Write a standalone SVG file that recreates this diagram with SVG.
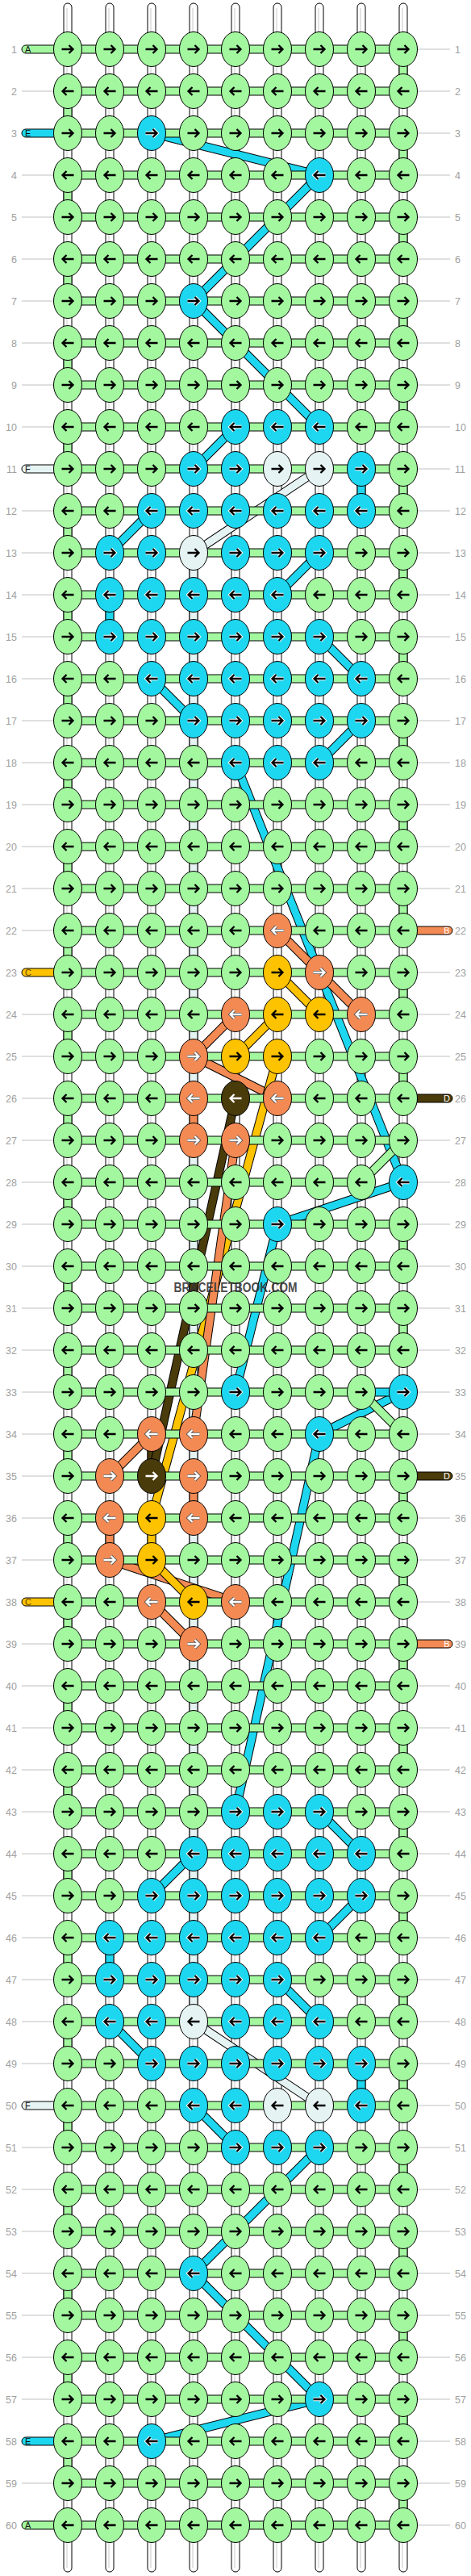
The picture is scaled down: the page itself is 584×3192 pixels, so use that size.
<svg xmlns="http://www.w3.org/2000/svg" xmlns:xlink="http://www.w3.org/1999/xlink" width="584" height="3192" viewBox="0 0 584 3192">
<style>
text{font-family:"Liberation Sans",Arial,sans-serif}
.rl{font-size:12.5px;fill:#a0a0a0}
.gl{stroke:#c0c0c0;stroke-width:1;fill:none}
.vs{fill:#fff;stroke:#000;stroke-width:1}
.vc{stroke:#c8c8c8;stroke-width:1}
.s{stroke:#000;stroke-width:1}
.g{fill:#a3f79f}.c{fill:#1dd7f0}.f{fill:#e6f3f3}.o{fill:#f38a54}.y{fill:#fdc300}.b{fill:#4a3b0b}
.lo{stroke:#000;stroke-width:11}
.lg{stroke:#a3f79f;stroke-width:9}.lc{stroke:#1dd7f0;stroke-width:9}.lf{stroke:#e6f3f3;stroke-width:9}
.lor{stroke:#f38a54;stroke-width:9}.ly{stroke:#fdc300;stroke-width:9}.lb{stroke:#4a3b0b;stroke-width:9}
.ab{fill:none;stroke:#000;stroke-width:2.3}
.aw{fill:none;stroke:#fff;stroke-width:2.3}
.ah{fill:none;stroke:#fff;stroke-width:4.3}
.ad{fill:none;stroke:#555;stroke-width:4}
.sl{font-size:11px}
</style>
<defs>
<path id="aR" d="M-7.5 0H6M1.5-5L6.5 0L1.5 5"/>
<path id="aL" d="M7.5 0H-6M-1.5-5L-6.5 0L-1.5 5"/>
<g id="GR"><ellipse class="s g" rx="17.5" ry="21.5"/><use href="#aR" class="ab"/></g>
<g id="GL"><ellipse class="s g" rx="17.5" ry="21.5"/><use href="#aL" class="ab"/></g>
<g id="CR"><ellipse class="s c" rx="17.5" ry="21.5"/><use href="#aR" class="ah"/><use href="#aR" class="ab"/></g>
<g id="CL"><ellipse class="s c" rx="17.5" ry="21.5"/><use href="#aL" class="ah"/><use href="#aL" class="ab"/></g>
<g id="FR"><ellipse class="s f" rx="17.5" ry="21.5"/><use href="#aR" class="ab"/></g>
<g id="FL"><ellipse class="s f" rx="17.5" ry="21.5"/><use href="#aL" class="ab"/></g>
<g id="OR"><ellipse class="s o" rx="17.5" ry="21.5"/><use href="#aR" class="ad"/><use href="#aR" class="aw"/></g>
<g id="OL"><ellipse class="s o" rx="17.5" ry="21.5"/><use href="#aL" class="ad"/><use href="#aL" class="aw"/></g>
<g id="YR"><ellipse class="s y" rx="17.5" ry="21.5"/><use href="#aR" class="ab"/></g>
<g id="YL"><ellipse class="s y" rx="17.5" ry="21.5"/><use href="#aL" class="ab"/></g>
<g id="BR"><ellipse class="s b" rx="17.5" ry="21.5"/><use href="#aR" class="aw"/></g>
<g id="BL"><ellipse class="s b" rx="17.5" ry="21.5"/><use href="#aL" class="aw"/></g>
</defs>
<rect width="584" height="3192" fill="#fff"/>

<g id="row-guides">
<path class="gl" d="M27 113H67M27 217H67M27 269H67M27 321H67M27 373H67M27 425H67M27 477H67M27 529H67M27 633H67M27 685H67M27 737H67M27 789H67M27 841H67M27 893H67M27 945H67M27 997H67M27 1049H67M27 1101H67M27 1153H67M27 1257H67M27 1309H67M27 1361H67M27 1413H67M27 1465H67M27 1517H67M27 1569H67M27 1621H67M27 1673H67M27 1725H67M27 1777H67M27 1829H67M27 1881H67M27 1933H67M27 2037H67M27 2089H67M27 2141H67M27 2193H67M27 2245H67M27 2297H67M27 2349H67M27 2401H67M27 2453H67M27 2505H67M27 2557H67M27 2661H67M27 2713H67M27 2765H67M27 2817H67M27 2869H67M27 2921H67M27 2973H67M27 3077H67"/>
<path class="gl" d="M517 61H558M517 113H558M517 165H558M517 217H558M517 269H558M517 321H558M517 373H558M517 425H558M517 477H558M517 529H558M517 581H558M517 633H558M517 685H558M517 737H558M517 789H558M517 841H558M517 893H558M517 945H558M517 997H558M517 1049H558M517 1101H558M517 1205H558M517 1257H558M517 1309H558M517 1413H558M517 1465H558M517 1517H558M517 1569H558M517 1621H558M517 1673H558M517 1725H558M517 1777H558M517 1881H558M517 1933H558M517 1985H558M517 2089H558M517 2141H558M517 2193H558M517 2245H558M517 2297H558M517 2349H558M517 2401H558M517 2453H558M517 2505H558M517 2557H558M517 2609H558M517 2661H558M517 2713H558M517 2765H558M517 2817H558M517 2869H558M517 2921H558M517 2973H558M517 3025H558M517 3077H558M517 3129H558"/>
<g class="rl" text-anchor="end">
<text x="21" y="65.5">1</text><text x="21" y="117.5">2</text><text x="21" y="169.5">3</text><text x="21" y="221.5">4</text><text x="21" y="273.5">5</text><text x="21" y="325.5">6</text><text x="21" y="377.5">7</text><text x="21" y="429.5">8</text><text x="21" y="481.5">9</text><text x="21" y="533.5">10</text>
<text x="21" y="585.5">11</text><text x="21" y="637.5">12</text><text x="21" y="689.5">13</text><text x="21" y="741.5">14</text><text x="21" y="793.5">15</text><text x="21" y="845.5">16</text><text x="21" y="897.5">17</text><text x="21" y="949.5">18</text><text x="21" y="1001.5">19</text><text x="21" y="1053.5">20</text>
<text x="21" y="1105.5">21</text><text x="21" y="1157.5">22</text><text x="21" y="1209.5">23</text><text x="21" y="1261.5">24</text><text x="21" y="1313.5">25</text><text x="21" y="1365.5">26</text><text x="21" y="1417.5">27</text><text x="21" y="1469.5">28</text><text x="21" y="1521.5">29</text><text x="21" y="1573.5">30</text>
<text x="21" y="1625.5">31</text><text x="21" y="1677.5">32</text><text x="21" y="1729.5">33</text><text x="21" y="1781.5">34</text><text x="21" y="1833.5">35</text><text x="21" y="1885.5">36</text><text x="21" y="1937.5">37</text><text x="21" y="1989.5">38</text><text x="21" y="2041.5">39</text><text x="21" y="2093.5">40</text>
<text x="21" y="2145.5">41</text><text x="21" y="2197.5">42</text><text x="21" y="2249.5">43</text><text x="21" y="2301.5">44</text><text x="21" y="2353.5">45</text><text x="21" y="2405.5">46</text><text x="21" y="2457.5">47</text><text x="21" y="2509.5">48</text><text x="21" y="2561.5">49</text><text x="21" y="2613.5">50</text>
<text x="21" y="2665.5">51</text><text x="21" y="2717.5">52</text><text x="21" y="2769.5">53</text><text x="21" y="2821.5">54</text><text x="21" y="2873.5">55</text><text x="21" y="2925.5">56</text><text x="21" y="2977.5">57</text><text x="21" y="3029.5">58</text><text x="21" y="3081.5">59</text><text x="21" y="3133.5">60</text>
</g>
<g class="rl">
<text x="564" y="65.5">1</text><text x="564" y="117.5">2</text><text x="564" y="169.5">3</text><text x="564" y="221.5">4</text><text x="564" y="273.5">5</text><text x="564" y="325.5">6</text><text x="564" y="377.5">7</text><text x="564" y="429.5">8</text><text x="564" y="481.5">9</text><text x="564" y="533.5">10</text>
<text x="564" y="585.5">11</text><text x="564" y="637.5">12</text><text x="564" y="689.5">13</text><text x="564" y="741.5">14</text><text x="564" y="793.5">15</text><text x="564" y="845.5">16</text><text x="564" y="897.5">17</text><text x="564" y="949.5">18</text><text x="564" y="1001.5">19</text><text x="564" y="1053.5">20</text>
<text x="564" y="1105.5">21</text><text x="564" y="1157.5">22</text><text x="564" y="1209.5">23</text><text x="564" y="1261.5">24</text><text x="564" y="1313.5">25</text><text x="564" y="1365.5">26</text><text x="564" y="1417.5">27</text><text x="564" y="1469.5">28</text><text x="564" y="1521.5">29</text><text x="564" y="1573.5">30</text>
<text x="564" y="1625.5">31</text><text x="564" y="1677.5">32</text><text x="564" y="1729.5">33</text><text x="564" y="1781.5">34</text><text x="564" y="1833.5">35</text><text x="564" y="1885.5">36</text><text x="564" y="1937.5">37</text><text x="564" y="1989.5">38</text><text x="564" y="2041.5">39</text><text x="564" y="2093.5">40</text>
<text x="564" y="2145.5">41</text><text x="564" y="2197.5">42</text><text x="564" y="2249.5">43</text><text x="564" y="2301.5">44</text><text x="564" y="2353.5">45</text><text x="564" y="2405.5">46</text><text x="564" y="2457.5">47</text><text x="564" y="2509.5">48</text><text x="564" y="2561.5">49</text><text x="564" y="2613.5">50</text>
<text x="564" y="2665.5">51</text><text x="564" y="2717.5">52</text><text x="564" y="2769.5">53</text><text x="564" y="2821.5">54</text><text x="564" y="2873.5">55</text><text x="564" y="2925.5">56</text><text x="564" y="2977.5">57</text><text x="564" y="3029.5">58</text><text x="564" y="3081.5">59</text><text x="564" y="3133.5">60</text>
</g>
</g>

<g id="warp-strands">
<rect class="vs" x="79" y="4" width="10" height="3183" rx="5"/><rect class="vs" x="131" y="4" width="10" height="3183" rx="5"/><rect class="vs" x="183" y="4" width="10" height="3183" rx="5"/><rect class="vs" x="235" y="4" width="10" height="3183" rx="5"/><rect class="vs" x="287" y="4" width="10" height="3183" rx="5"/><rect class="vs" x="339" y="4" width="10" height="3183" rx="5"/><rect class="vs" x="391" y="4" width="10" height="3183" rx="5"/><rect class="vs" x="443" y="4" width="10" height="3183" rx="5"/><rect class="vs" x="495" y="4" width="10" height="3183" rx="5"/>
<path class="vc" d="M83 10V3182M135 10V3182M187 10V3182M239 10V3182M291 10V3182M343 10V3182M395 10V3182M447 10V3182M499 10V3182"/>
<path class="s g" d="M79 128h10v22h-10zM79 232h10v22h-10zM79 336h10v22h-10zM79 440h10v22h-10zM79 544h10v22h-10zM79 648h10v22h-10zM79 752h10v22h-10zM79 856h10v22h-10zM79 960h10v22h-10zM79 1064h10v22h-10zM79 1168h10v22h-10zM79 1272h10v22h-10zM79 1376h10v22h-10zM79 1480h10v22h-10zM79 1584h10v22h-10zM79 1688h10v22h-10zM79 1792h10v22h-10zM79 1896h10v22h-10zM79 2000h10v22h-10zM79 2104h10v22h-10zM79 2208h10v22h-10zM79 2312h10v22h-10zM79 2416h10v22h-10zM79 2520h10v22h-10zM79 2624h10v22h-10zM79 2728h10v22h-10zM79 2832h10v22h-10zM79 2936h10v22h-10zM79 3040h10v22h-10z"/>
<path class="s g" d="M495 76h10v22h-10zM495 180h10v22h-10zM495 284h10v22h-10zM495 388h10v22h-10zM495 492h10v22h-10zM495 596h10v22h-10zM495 700h10v22h-10zM495 804h10v22h-10zM495 908h10v22h-10zM495 1012h10v22h-10zM495 1116h10v22h-10zM495 1220h10v22h-10zM495 1324h10v22h-10zM495 1532h10v22h-10zM495 1636h10v22h-10zM495 1844h10v22h-10zM495 1948h10v22h-10zM495 2052h10v22h-10zM495 2156h10v22h-10zM495 2260h10v22h-10zM495 2364h10v22h-10zM495 2468h10v22h-10zM495 2572h10v22h-10zM495 2676h10v22h-10zM495 2780h10v22h-10zM495 2884h10v22h-10zM495 2988h10v22h-10zM495 3092h10v22h-10z"/>
<path class="s c" d="M443 596h10v22h-10zM443 2572h10v22h-10zM131 752h10v22h-10zM131 2416h10v22h-10z"/>
<path class="s f" d="M235 700h10v646h-10zM235 1428h10v386h-10zM235 1896h10v594h-10z"/>
<path class="s o" d="M235 1376h10v22h-10zM235 1844h10v22h-10zM131 1896h10v22h-10z"/>
<path class="s y" d="M183 1896h10v22h-10z"/>
<path class="s b" d="M183 1792h10v22h-10z"/>
</g>

<g id="connectors">
<g id="e1"><line class="lo" x1="188" y1="165" x2="396" y2="217"/><line class="lc" x1="188" y1="165" x2="396" y2="217"/></g>
<g id="e2"><line class="lo" x1="396" y1="217" x2="240" y2="373"/><line class="lc" x1="396" y1="217" x2="240" y2="373"/></g>
<g id="e3"><line class="lo" x1="240" y1="373" x2="396" y2="529"/><line class="lc" x1="240" y1="373" x2="396" y2="529"/></g>
<g id="e4"><line class="lo" x1="292" y1="529" x2="240" y2="581"/><line class="lc" x1="292" y1="529" x2="240" y2="581"/></g>
<g id="e5"><line class="lo" x1="188" y1="633" x2="136" y2="685"/><line class="lc" x1="188" y1="633" x2="136" y2="685"/></g>
<g id="e6"><line class="lo" x1="396" y1="685" x2="344" y2="737"/><line class="lc" x1="396" y1="685" x2="344" y2="737"/></g>
<g id="e7"><line class="lo" x1="396" y1="789" x2="448" y2="841"/><line class="lc" x1="396" y1="789" x2="448" y2="841"/></g>
<g id="e8"><line class="lo" x1="188" y1="841" x2="240" y2="893"/><line class="lc" x1="188" y1="841" x2="240" y2="893"/></g>
<g id="e9"><line class="lo" x1="448" y1="893" x2="396" y2="945"/><line class="lc" x1="448" y1="893" x2="396" y2="945"/></g>
<g id="e10"><line class="lo" x1="292" y1="945" x2="500" y2="1465"/><line class="lc" x1="292" y1="945" x2="500" y2="1465"/></g>
<g id="e11"><line class="lo" x1="500" y1="1465" x2="344" y2="1517"/><line class="lc" x1="500" y1="1465" x2="344" y2="1517"/></g>
<g id="e12"><line class="lo" x1="344" y1="1517" x2="292" y2="1725"/><line class="lc" x1="344" y1="1517" x2="292" y2="1725"/></g>
<g id="e13"><line class="lo" x1="500" y1="1725" x2="396" y2="1777"/><line class="lc" x1="500" y1="1725" x2="396" y2="1777"/></g>
<g id="e14"><line class="lo" x1="396" y1="1777" x2="292" y2="2245"/><line class="lc" x1="396" y1="1777" x2="292" y2="2245"/></g>
<g id="e15"><line class="lo" x1="396" y1="2245" x2="448" y2="2297"/><line class="lc" x1="396" y1="2245" x2="448" y2="2297"/></g>
<g id="e16"><line class="lo" x1="240" y1="2297" x2="188" y2="2349"/><line class="lc" x1="240" y1="2297" x2="188" y2="2349"/></g>
<g id="e17"><line class="lo" x1="448" y1="2349" x2="396" y2="2401"/><line class="lc" x1="448" y1="2349" x2="396" y2="2401"/></g>
<g id="e18"><line class="lo" x1="344" y1="2453" x2="396" y2="2505"/><line class="lc" x1="344" y1="2453" x2="396" y2="2505"/></g>
<g id="e19"><line class="lo" x1="136" y1="2505" x2="188" y2="2557"/><line class="lc" x1="136" y1="2505" x2="188" y2="2557"/></g>
<g id="e20"><line class="lo" x1="240" y1="2609" x2="292" y2="2661"/><line class="lc" x1="240" y1="2609" x2="292" y2="2661"/></g>
<g id="e21"><line class="lo" x1="396" y1="2661" x2="240" y2="2817"/><line class="lc" x1="396" y1="2661" x2="240" y2="2817"/></g>
<g id="e22"><line class="lo" x1="240" y1="2817" x2="396" y2="2973"/><line class="lc" x1="240" y1="2817" x2="396" y2="2973"/></g>
<g id="e23"><line class="lo" x1="396" y1="2973" x2="188" y2="3025"/><line class="lc" x1="396" y1="2973" x2="188" y2="3025"/></g>
<g id="e24"><line class="lo" x1="396" y1="581" x2="240" y2="685"/><line class="lf" x1="396" y1="581" x2="240" y2="685"/></g>
<g id="e25"><line class="lo" x1="240" y1="2505" x2="396" y2="2609"/><line class="lf" x1="240" y1="2505" x2="396" y2="2609"/></g>
<g id="e26"><line class="lo" x1="500" y1="1413" x2="448" y2="1465"/><line class="lg" x1="500" y1="1413" x2="448" y2="1465"/></g>
<g id="e27"><line class="lo" x1="448" y1="1725" x2="500" y2="1777"/><line class="lg" x1="448" y1="1725" x2="500" y2="1777"/></g>
<g id="e28"><line class="lo" x1="344" y1="1153" x2="396" y2="1205"/><line class="lor" x1="344" y1="1153" x2="396" y2="1205"/></g>
<g id="e29"><line class="lo" x1="396" y1="1205" x2="448" y2="1257"/><line class="lor" x1="396" y1="1205" x2="448" y2="1257"/></g>
<g id="e30"><line class="lo" x1="292" y1="1257" x2="240" y2="1309"/><line class="lor" x1="292" y1="1257" x2="240" y2="1309"/></g>
<g id="e31"><line class="lo" x1="240" y1="1309" x2="344" y2="1361"/><line class="lor" x1="240" y1="1309" x2="344" y2="1361"/></g>
<g id="e36"><line class="lo" x1="344" y1="1205" x2="396" y2="1257"/><line class="ly" x1="344" y1="1205" x2="396" y2="1257"/></g>
<g id="e37"><line class="lo" x1="344" y1="1257" x2="292" y2="1309"/><line class="ly" x1="344" y1="1257" x2="292" y2="1309"/></g>
<g id="e40"><line class="lo" x1="292" y1="1361" x2="188" y2="1829"/><line class="lb" x1="292" y1="1361" x2="188" y2="1829"/></g>
<g id="e38"><line class="lo" x1="344" y1="1309" x2="188" y2="1881"/><line class="ly" x1="344" y1="1309" x2="188" y2="1881"/></g>
<g id="e32"><line class="lo" x1="292" y1="1413" x2="240" y2="1777"/><line class="lor" x1="292" y1="1413" x2="240" y2="1777"/></g>
<g id="e33"><line class="lo" x1="188" y1="1777" x2="136" y2="1829"/><line class="lor" x1="188" y1="1777" x2="136" y2="1829"/></g>
<g id="e34"><line class="lo" x1="136" y1="1933" x2="292" y2="1985"/><line class="lor" x1="136" y1="1933" x2="292" y2="1985"/></g>
<g id="e39"><line class="lo" x1="188" y1="1933" x2="240" y2="1985"/><line class="ly" x1="188" y1="1933" x2="240" y2="1985"/></g>
<g id="e35"><line class="lo" x1="188" y1="1985" x2="240" y2="2037"/><line class="lor" x1="188" y1="1985" x2="240" y2="2037"/></g>
</g>

<g id="weft-bars">
<path class="s g" d="M84 56h416v10h-416zM84 108h416v10h-416zM84 160h416v10h-416zM84 212h416v10h-416zM84 264h416v10h-416zM84 316h416v10h-416zM84 368h416v10h-416zM84 420h416v10h-416zM84 472h416v10h-416zM84 524h416v10h-416zM84 576h416v10h-416zM84 628h416v10h-416zM84 680h416v10h-416zM84 732h416v10h-416zM84 784h416v10h-416zM84 836h416v10h-416zM84 888h416v10h-416zM84 940h416v10h-416zM84 992h416v10h-416zM84 1044h416v10h-416zM84 1096h416v10h-416zM84 1148h416v10h-416zM84 1200h416v10h-416zM84 1252h416v10h-416zM84 1304h416v10h-416zM84 1356h416v10h-416zM84 1408h416v10h-416zM84 1460h364v10h-364zM84 1512h416v10h-416zM84 1564h416v10h-416zM84 1616h416v10h-416zM84 1668h416v10h-416zM84 1720h364v10h-364zM84 1772h416v10h-416zM84 1824h416v10h-416zM84 1876h416v10h-416zM84 1928h416v10h-416zM84 1980h416v10h-416zM84 2032h416v10h-416zM84 2084h416v10h-416zM84 2136h416v10h-416zM84 2188h416v10h-416zM84 2240h416v10h-416zM84 2292h416v10h-416zM84 2344h416v10h-416zM84 2396h416v10h-416zM84 2448h416v10h-416zM84 2500h416v10h-416zM84 2552h416v10h-416zM84 2604h416v10h-416zM84 2656h416v10h-416zM84 2708h416v10h-416zM84 2760h416v10h-416zM84 2812h416v10h-416zM84 2864h416v10h-416zM84 2916h416v10h-416zM84 2968h416v10h-416zM84 3020h416v10h-416zM84 3072h416v10h-416zM84 3124h416v10h-416z"/>
<path class="s c" d="M448 1720h52v10h-52z"/>
</g>

<g id="strand-ends">
<g id="sA1"><rect class="s g" x="27" y="56" width="62" height="10" rx="5"/><text class="sl" x="31" y="65" fill="#111">A</text></g>
<g id="sE1"><rect class="s c" x="27" y="160" width="62" height="10" rx="5"/><text class="sl" x="31" y="169" fill="#111">E</text></g>
<g id="sF1"><rect class="s f" x="27" y="576" width="62" height="10" rx="5"/><text class="sl" x="31" y="585" fill="#111">F</text></g>
<g id="sC1"><rect class="s y" x="27" y="1200" width="62" height="10" rx="5"/><text class="sl" x="31" y="1209" fill="#6a4300">C</text></g>
<g id="sC2"><rect class="s y" x="27" y="1980" width="62" height="10" rx="5"/><text class="sl" x="31" y="1989" fill="#6a4300">C</text></g>
<g id="sF2"><rect class="s f" x="27" y="2604" width="62" height="10" rx="5"/><text class="sl" x="31" y="2613" fill="#111">F</text></g>
<g id="sE2"><rect class="s c" x="27" y="3020" width="62" height="10" rx="5"/><text class="sl" x="31" y="3029" fill="#111">E</text></g>
<g id="sA2"><rect class="s g" x="27" y="3124" width="62" height="10" rx="5"/><text class="sl" x="31" y="3133" fill="#111">A</text></g>
<g id="sB1"><rect class="s o" x="495" y="1148" width="66" height="10" rx="5"/><text class="sl" x="554" y="1157" fill="#fff" text-anchor="middle">B</text></g>
<g id="sD1"><rect class="s b" x="495" y="1356" width="66" height="10" rx="5"/><text class="sl" x="554" y="1365" fill="#fff" text-anchor="middle">D</text></g>
<g id="sD2"><rect class="s b" x="495" y="1824" width="66" height="10" rx="5"/><text class="sl" x="554" y="1833" fill="#fff" text-anchor="middle">D</text></g>
<g id="sB2"><rect class="s o" x="495" y="2032" width="66" height="10" rx="5"/><text class="sl" x="554" y="2041" fill="#fff" text-anchor="middle">B</text></g>
</g>

<g id="knots">
<g transform="translate(0 61)"><g id="k1-1"><use href="#GR" x="84"/></g><g id="k1-2"><use href="#GR" x="136"/></g><g id="k1-3"><use href="#GR" x="188"/></g><g id="k1-4"><use href="#GR" x="240"/></g><g id="k1-5"><use href="#GR" x="292"/></g><g id="k1-6"><use href="#GR" x="344"/></g><g id="k1-7"><use href="#GR" x="396"/></g><g id="k1-8"><use href="#GR" x="448"/></g><g id="k1-9"><use href="#GR" x="500"/></g></g>
<g transform="translate(0 113)"><g id="k2-1"><use href="#GL" x="84"/></g><g id="k2-2"><use href="#GL" x="136"/></g><g id="k2-3"><use href="#GL" x="188"/></g><g id="k2-4"><use href="#GL" x="240"/></g><g id="k2-5"><use href="#GL" x="292"/></g><g id="k2-6"><use href="#GL" x="344"/></g><g id="k2-7"><use href="#GL" x="396"/></g><g id="k2-8"><use href="#GL" x="448"/></g><g id="k2-9"><use href="#GL" x="500"/></g></g>
<g transform="translate(0 165)"><g id="k3-1"><use href="#GR" x="84"/></g><g id="k3-2"><use href="#GR" x="136"/></g><g id="k3-3"><use href="#CR" x="188"/></g><g id="k3-4"><use href="#GR" x="240"/></g><g id="k3-5"><use href="#GR" x="292"/></g><g id="k3-6"><use href="#GR" x="344"/></g><g id="k3-7"><use href="#GR" x="396"/></g><g id="k3-8"><use href="#GR" x="448"/></g><g id="k3-9"><use href="#GR" x="500"/></g></g>
<g transform="translate(0 217)"><g id="k4-1"><use href="#GL" x="84"/></g><g id="k4-2"><use href="#GL" x="136"/></g><g id="k4-3"><use href="#GL" x="188"/></g><g id="k4-4"><use href="#GL" x="240"/></g><g id="k4-5"><use href="#GL" x="292"/></g><g id="k4-6"><use href="#GL" x="344"/></g><g id="k4-7"><use href="#CL" x="396"/></g><g id="k4-8"><use href="#GL" x="448"/></g><g id="k4-9"><use href="#GL" x="500"/></g></g>
<g transform="translate(0 269)"><g id="k5-1"><use href="#GR" x="84"/></g><g id="k5-2"><use href="#GR" x="136"/></g><g id="k5-3"><use href="#GR" x="188"/></g><g id="k5-4"><use href="#GR" x="240"/></g><g id="k5-5"><use href="#GR" x="292"/></g><g id="k5-6"><use href="#GR" x="344"/></g><g id="k5-7"><use href="#GR" x="396"/></g><g id="k5-8"><use href="#GR" x="448"/></g><g id="k5-9"><use href="#GR" x="500"/></g></g>
<g transform="translate(0 321)"><g id="k6-1"><use href="#GL" x="84"/></g><g id="k6-2"><use href="#GL" x="136"/></g><g id="k6-3"><use href="#GL" x="188"/></g><g id="k6-4"><use href="#GL" x="240"/></g><g id="k6-5"><use href="#GL" x="292"/></g><g id="k6-6"><use href="#GL" x="344"/></g><g id="k6-7"><use href="#GL" x="396"/></g><g id="k6-8"><use href="#GL" x="448"/></g><g id="k6-9"><use href="#GL" x="500"/></g></g>
<g transform="translate(0 373)"><g id="k7-1"><use href="#GR" x="84"/></g><g id="k7-2"><use href="#GR" x="136"/></g><g id="k7-3"><use href="#GR" x="188"/></g><g id="k7-4"><use href="#CR" x="240"/></g><g id="k7-5"><use href="#GR" x="292"/></g><g id="k7-6"><use href="#GR" x="344"/></g><g id="k7-7"><use href="#GR" x="396"/></g><g id="k7-8"><use href="#GR" x="448"/></g><g id="k7-9"><use href="#GR" x="500"/></g></g>
<g transform="translate(0 425)"><g id="k8-1"><use href="#GL" x="84"/></g><g id="k8-2"><use href="#GL" x="136"/></g><g id="k8-3"><use href="#GL" x="188"/></g><g id="k8-4"><use href="#GL" x="240"/></g><g id="k8-5"><use href="#GL" x="292"/></g><g id="k8-6"><use href="#GL" x="344"/></g><g id="k8-7"><use href="#GL" x="396"/></g><g id="k8-8"><use href="#GL" x="448"/></g><g id="k8-9"><use href="#GL" x="500"/></g></g>
<g transform="translate(0 477)"><g id="k9-1"><use href="#GR" x="84"/></g><g id="k9-2"><use href="#GR" x="136"/></g><g id="k9-3"><use href="#GR" x="188"/></g><g id="k9-4"><use href="#GR" x="240"/></g><g id="k9-5"><use href="#GR" x="292"/></g><g id="k9-6"><use href="#GR" x="344"/></g><g id="k9-7"><use href="#GR" x="396"/></g><g id="k9-8"><use href="#GR" x="448"/></g><g id="k9-9"><use href="#GR" x="500"/></g></g>
<g transform="translate(0 529)"><g id="k10-1"><use href="#GL" x="84"/></g><g id="k10-2"><use href="#GL" x="136"/></g><g id="k10-3"><use href="#GL" x="188"/></g><g id="k10-4"><use href="#GL" x="240"/></g><g id="k10-5"><use href="#CL" x="292"/></g><g id="k10-6"><use href="#CL" x="344"/></g><g id="k10-7"><use href="#CL" x="396"/></g><g id="k10-8"><use href="#GL" x="448"/></g><g id="k10-9"><use href="#GL" x="500"/></g></g>
<g transform="translate(0 581)"><g id="k11-1"><use href="#GR" x="84"/></g><g id="k11-2"><use href="#GR" x="136"/></g><g id="k11-3"><use href="#GR" x="188"/></g><g id="k11-4"><use href="#CR" x="240"/></g><g id="k11-5"><use href="#CR" x="292"/></g><g id="k11-6"><use href="#FR" x="344"/></g><g id="k11-7"><use href="#FR" x="396"/></g><g id="k11-8"><use href="#CR" x="448"/></g><g id="k11-9"><use href="#GR" x="500"/></g></g>
<g transform="translate(0 633)"><g id="k12-1"><use href="#GL" x="84"/></g><g id="k12-2"><use href="#GL" x="136"/></g><g id="k12-3"><use href="#CL" x="188"/></g><g id="k12-4"><use href="#CL" x="240"/></g><g id="k12-5"><use href="#CL" x="292"/></g><g id="k12-6"><use href="#CL" x="344"/></g><g id="k12-7"><use href="#CL" x="396"/></g><g id="k12-8"><use href="#CL" x="448"/></g><g id="k12-9"><use href="#GL" x="500"/></g></g>
<g transform="translate(0 685)"><g id="k13-1"><use href="#GR" x="84"/></g><g id="k13-2"><use href="#CR" x="136"/></g><g id="k13-3"><use href="#CR" x="188"/></g><g id="k13-4"><use href="#FR" x="240"/></g><g id="k13-5"><use href="#CR" x="292"/></g><g id="k13-6"><use href="#CR" x="344"/></g><g id="k13-7"><use href="#CR" x="396"/></g><g id="k13-8"><use href="#GR" x="448"/></g><g id="k13-9"><use href="#GR" x="500"/></g></g>
<g transform="translate(0 737)"><g id="k14-1"><use href="#GL" x="84"/></g><g id="k14-2"><use href="#CL" x="136"/></g><g id="k14-3"><use href="#CL" x="188"/></g><g id="k14-4"><use href="#CL" x="240"/></g><g id="k14-5"><use href="#CL" x="292"/></g><g id="k14-6"><use href="#CL" x="344"/></g><g id="k14-7"><use href="#GL" x="396"/></g><g id="k14-8"><use href="#GL" x="448"/></g><g id="k14-9"><use href="#GL" x="500"/></g></g>
<g transform="translate(0 789)"><g id="k15-1"><use href="#GR" x="84"/></g><g id="k15-2"><use href="#CR" x="136"/></g><g id="k15-3"><use href="#CR" x="188"/></g><g id="k15-4"><use href="#CR" x="240"/></g><g id="k15-5"><use href="#CR" x="292"/></g><g id="k15-6"><use href="#CR" x="344"/></g><g id="k15-7"><use href="#CR" x="396"/></g><g id="k15-8"><use href="#GR" x="448"/></g><g id="k15-9"><use href="#GR" x="500"/></g></g>
<g transform="translate(0 841)"><g id="k16-1"><use href="#GL" x="84"/></g><g id="k16-2"><use href="#GL" x="136"/></g><g id="k16-3"><use href="#CL" x="188"/></g><g id="k16-4"><use href="#CL" x="240"/></g><g id="k16-5"><use href="#CL" x="292"/></g><g id="k16-6"><use href="#CL" x="344"/></g><g id="k16-7"><use href="#CL" x="396"/></g><g id="k16-8"><use href="#CL" x="448"/></g><g id="k16-9"><use href="#GL" x="500"/></g></g>
<g transform="translate(0 893)"><g id="k17-1"><use href="#GR" x="84"/></g><g id="k17-2"><use href="#GR" x="136"/></g><g id="k17-3"><use href="#GR" x="188"/></g><g id="k17-4"><use href="#CR" x="240"/></g><g id="k17-5"><use href="#CR" x="292"/></g><g id="k17-6"><use href="#CR" x="344"/></g><g id="k17-7"><use href="#CR" x="396"/></g><g id="k17-8"><use href="#CR" x="448"/></g><g id="k17-9"><use href="#GR" x="500"/></g></g>
<g transform="translate(0 945)"><g id="k18-1"><use href="#GL" x="84"/></g><g id="k18-2"><use href="#GL" x="136"/></g><g id="k18-3"><use href="#GL" x="188"/></g><g id="k18-4"><use href="#GL" x="240"/></g><g id="k18-5"><use href="#CL" x="292"/></g><g id="k18-6"><use href="#CL" x="344"/></g><g id="k18-7"><use href="#CL" x="396"/></g><g id="k18-8"><use href="#GL" x="448"/></g><g id="k18-9"><use href="#GL" x="500"/></g></g>
<g transform="translate(0 997)"><g id="k19-1"><use href="#GR" x="84"/></g><g id="k19-2"><use href="#GR" x="136"/></g><g id="k19-3"><use href="#GR" x="188"/></g><g id="k19-4"><use href="#GR" x="240"/></g><g id="k19-5"><use href="#GR" x="292"/></g><g id="k19-6"><use href="#GR" x="344"/></g><g id="k19-7"><use href="#GR" x="396"/></g><g id="k19-8"><use href="#GR" x="448"/></g><g id="k19-9"><use href="#GR" x="500"/></g></g>
<g transform="translate(0 1049)"><g id="k20-1"><use href="#GL" x="84"/></g><g id="k20-2"><use href="#GL" x="136"/></g><g id="k20-3"><use href="#GL" x="188"/></g><g id="k20-4"><use href="#GL" x="240"/></g><g id="k20-5"><use href="#GL" x="292"/></g><g id="k20-6"><use href="#GL" x="344"/></g><g id="k20-7"><use href="#GL" x="396"/></g><g id="k20-8"><use href="#GL" x="448"/></g><g id="k20-9"><use href="#GL" x="500"/></g></g>
<g transform="translate(0 1101)"><g id="k21-1"><use href="#GR" x="84"/></g><g id="k21-2"><use href="#GR" x="136"/></g><g id="k21-3"><use href="#GR" x="188"/></g><g id="k21-4"><use href="#GR" x="240"/></g><g id="k21-5"><use href="#GR" x="292"/></g><g id="k21-6"><use href="#GR" x="344"/></g><g id="k21-7"><use href="#GR" x="396"/></g><g id="k21-8"><use href="#GR" x="448"/></g><g id="k21-9"><use href="#GR" x="500"/></g></g>
<g transform="translate(0 1153)"><g id="k22-1"><use href="#GL" x="84"/></g><g id="k22-2"><use href="#GL" x="136"/></g><g id="k22-3"><use href="#GL" x="188"/></g><g id="k22-4"><use href="#GL" x="240"/></g><g id="k22-5"><use href="#GL" x="292"/></g><g id="k22-6"><use href="#OL" x="344"/></g><g id="k22-7"><use href="#GL" x="396"/></g><g id="k22-8"><use href="#GL" x="448"/></g><g id="k22-9"><use href="#GL" x="500"/></g></g>
<g transform="translate(0 1205)"><g id="k23-1"><use href="#GR" x="84"/></g><g id="k23-2"><use href="#GR" x="136"/></g><g id="k23-3"><use href="#GR" x="188"/></g><g id="k23-4"><use href="#GR" x="240"/></g><g id="k23-5"><use href="#GR" x="292"/></g><g id="k23-6"><use href="#YR" x="344"/></g><g id="k23-7"><use href="#OR" x="396"/></g><g id="k23-8"><use href="#GR" x="448"/></g><g id="k23-9"><use href="#GR" x="500"/></g></g>
<g transform="translate(0 1257)"><g id="k24-1"><use href="#GL" x="84"/></g><g id="k24-2"><use href="#GL" x="136"/></g><g id="k24-3"><use href="#GL" x="188"/></g><g id="k24-4"><use href="#GL" x="240"/></g><g id="k24-5"><use href="#OL" x="292"/></g><g id="k24-6"><use href="#YL" x="344"/></g><g id="k24-7"><use href="#YL" x="396"/></g><g id="k24-8"><use href="#OL" x="448"/></g><g id="k24-9"><use href="#GL" x="500"/></g></g>
<g transform="translate(0 1309)"><g id="k25-1"><use href="#GR" x="84"/></g><g id="k25-2"><use href="#GR" x="136"/></g><g id="k25-3"><use href="#GR" x="188"/></g><g id="k25-4"><use href="#OR" x="240"/></g><g id="k25-5"><use href="#YR" x="292"/></g><g id="k25-6"><use href="#YR" x="344"/></g><g id="k25-7"><use href="#GR" x="396"/></g><g id="k25-8"><use href="#GR" x="448"/></g><g id="k25-9"><use href="#GR" x="500"/></g></g>
<g transform="translate(0 1361)"><g id="k26-1"><use href="#GL" x="84"/></g><g id="k26-2"><use href="#GL" x="136"/></g><g id="k26-3"><use href="#GL" x="188"/></g><g id="k26-4"><use href="#OL" x="240"/></g><g id="k26-5"><use href="#BL" x="292"/></g><g id="k26-6"><use href="#OL" x="344"/></g><g id="k26-7"><use href="#GL" x="396"/></g><g id="k26-8"><use href="#GL" x="448"/></g><g id="k26-9"><use href="#GL" x="500"/></g></g>
<g transform="translate(0 1413)"><g id="k27-1"><use href="#GR" x="84"/></g><g id="k27-2"><use href="#GR" x="136"/></g><g id="k27-3"><use href="#GR" x="188"/></g><g id="k27-4"><use href="#OR" x="240"/></g><g id="k27-5"><use href="#OR" x="292"/></g><g id="k27-6"><use href="#GR" x="344"/></g><g id="k27-7"><use href="#GR" x="396"/></g><g id="k27-8"><use href="#GR" x="448"/></g><g id="k27-9"><use href="#GR" x="500"/></g></g>
<g transform="translate(0 1465)"><g id="k28-1"><use href="#GL" x="84"/></g><g id="k28-2"><use href="#GL" x="136"/></g><g id="k28-3"><use href="#GL" x="188"/></g><g id="k28-4"><use href="#GL" x="240"/></g><g id="k28-5"><use href="#GL" x="292"/></g><g id="k28-6"><use href="#GL" x="344"/></g><g id="k28-7"><use href="#GL" x="396"/></g><g id="k28-8"><use href="#GL" x="448"/></g><g id="k28-9"><use href="#CL" x="500"/></g></g>
<g transform="translate(0 1517)"><g id="k29-1"><use href="#GR" x="84"/></g><g id="k29-2"><use href="#GR" x="136"/></g><g id="k29-3"><use href="#GR" x="188"/></g><g id="k29-4"><use href="#GR" x="240"/></g><g id="k29-5"><use href="#GR" x="292"/></g><g id="k29-6"><use href="#CR" x="344"/></g><g id="k29-7"><use href="#GR" x="396"/></g><g id="k29-8"><use href="#GR" x="448"/></g><g id="k29-9"><use href="#GR" x="500"/></g></g>
<g transform="translate(0 1569)"><g id="k30-1"><use href="#GL" x="84"/></g><g id="k30-2"><use href="#GL" x="136"/></g><g id="k30-3"><use href="#GL" x="188"/></g><g id="k30-4"><use href="#GL" x="240"/></g><g id="k30-5"><use href="#GL" x="292"/></g><g id="k30-6"><use href="#GL" x="344"/></g><g id="k30-7"><use href="#GL" x="396"/></g><g id="k30-8"><use href="#GL" x="448"/></g><g id="k30-9"><use href="#GL" x="500"/></g></g>
<g transform="translate(0 1621)"><g id="k31-1"><use href="#GR" x="84"/></g><g id="k31-2"><use href="#GR" x="136"/></g><g id="k31-3"><use href="#GR" x="188"/></g><g id="k31-4"><use href="#GR" x="240"/></g><g id="k31-5"><use href="#GR" x="292"/></g><g id="k31-6"><use href="#GR" x="344"/></g><g id="k31-7"><use href="#GR" x="396"/></g><g id="k31-8"><use href="#GR" x="448"/></g><g id="k31-9"><use href="#GR" x="500"/></g></g>
<g transform="translate(0 1673)"><g id="k32-1"><use href="#GL" x="84"/></g><g id="k32-2"><use href="#GL" x="136"/></g><g id="k32-3"><use href="#GL" x="188"/></g><g id="k32-4"><use href="#GL" x="240"/></g><g id="k32-5"><use href="#GL" x="292"/></g><g id="k32-6"><use href="#GL" x="344"/></g><g id="k32-7"><use href="#GL" x="396"/></g><g id="k32-8"><use href="#GL" x="448"/></g><g id="k32-9"><use href="#GL" x="500"/></g></g>
<g transform="translate(0 1725)"><g id="k33-1"><use href="#GR" x="84"/></g><g id="k33-2"><use href="#GR" x="136"/></g><g id="k33-3"><use href="#GR" x="188"/></g><g id="k33-4"><use href="#GR" x="240"/></g><g id="k33-5"><use href="#CR" x="292"/></g><g id="k33-6"><use href="#GR" x="344"/></g><g id="k33-7"><use href="#GR" x="396"/></g><g id="k33-8"><use href="#GR" x="448"/></g><g id="k33-9"><use href="#CR" x="500"/></g></g>
<g transform="translate(0 1777)"><g id="k34-1"><use href="#GL" x="84"/></g><g id="k34-2"><use href="#GL" x="136"/></g><g id="k34-3"><use href="#OL" x="188"/></g><g id="k34-4"><use href="#OL" x="240"/></g><g id="k34-5"><use href="#GL" x="292"/></g><g id="k34-6"><use href="#GL" x="344"/></g><g id="k34-7"><use href="#CL" x="396"/></g><g id="k34-8"><use href="#GL" x="448"/></g><g id="k34-9"><use href="#GL" x="500"/></g></g>
<g transform="translate(0 1829)"><g id="k35-1"><use href="#GR" x="84"/></g><g id="k35-2"><use href="#OR" x="136"/></g><g id="k35-3"><use href="#BR" x="188"/></g><g id="k35-4"><use href="#OR" x="240"/></g><g id="k35-5"><use href="#GR" x="292"/></g><g id="k35-6"><use href="#GR" x="344"/></g><g id="k35-7"><use href="#GR" x="396"/></g><g id="k35-8"><use href="#GR" x="448"/></g><g id="k35-9"><use href="#GR" x="500"/></g></g>
<g transform="translate(0 1881)"><g id="k36-1"><use href="#GL" x="84"/></g><g id="k36-2"><use href="#OL" x="136"/></g><g id="k36-3"><use href="#YL" x="188"/></g><g id="k36-4"><use href="#OL" x="240"/></g><g id="k36-5"><use href="#GL" x="292"/></g><g id="k36-6"><use href="#GL" x="344"/></g><g id="k36-7"><use href="#GL" x="396"/></g><g id="k36-8"><use href="#GL" x="448"/></g><g id="k36-9"><use href="#GL" x="500"/></g></g>
<g transform="translate(0 1933)"><g id="k37-1"><use href="#GR" x="84"/></g><g id="k37-2"><use href="#OR" x="136"/></g><g id="k37-3"><use href="#YR" x="188"/></g><g id="k37-4"><use href="#GR" x="240"/></g><g id="k37-5"><use href="#GR" x="292"/></g><g id="k37-6"><use href="#GR" x="344"/></g><g id="k37-7"><use href="#GR" x="396"/></g><g id="k37-8"><use href="#GR" x="448"/></g><g id="k37-9"><use href="#GR" x="500"/></g></g>
<g transform="translate(0 1985)"><g id="k38-1"><use href="#GL" x="84"/></g><g id="k38-2"><use href="#GL" x="136"/></g><g id="k38-3"><use href="#OL" x="188"/></g><g id="k38-4"><use href="#YL" x="240"/></g><g id="k38-5"><use href="#OL" x="292"/></g><g id="k38-6"><use href="#GL" x="344"/></g><g id="k38-7"><use href="#GL" x="396"/></g><g id="k38-8"><use href="#GL" x="448"/></g><g id="k38-9"><use href="#GL" x="500"/></g></g>
<g transform="translate(0 2037)"><g id="k39-1"><use href="#GR" x="84"/></g><g id="k39-2"><use href="#GR" x="136"/></g><g id="k39-3"><use href="#GR" x="188"/></g><g id="k39-4"><use href="#OR" x="240"/></g><g id="k39-5"><use href="#GR" x="292"/></g><g id="k39-6"><use href="#GR" x="344"/></g><g id="k39-7"><use href="#GR" x="396"/></g><g id="k39-8"><use href="#GR" x="448"/></g><g id="k39-9"><use href="#GR" x="500"/></g></g>
<g transform="translate(0 2089)"><g id="k40-1"><use href="#GL" x="84"/></g><g id="k40-2"><use href="#GL" x="136"/></g><g id="k40-3"><use href="#GL" x="188"/></g><g id="k40-4"><use href="#GL" x="240"/></g><g id="k40-5"><use href="#GL" x="292"/></g><g id="k40-6"><use href="#GL" x="344"/></g><g id="k40-7"><use href="#GL" x="396"/></g><g id="k40-8"><use href="#GL" x="448"/></g><g id="k40-9"><use href="#GL" x="500"/></g></g>
<g transform="translate(0 2141)"><g id="k41-1"><use href="#GR" x="84"/></g><g id="k41-2"><use href="#GR" x="136"/></g><g id="k41-3"><use href="#GR" x="188"/></g><g id="k41-4"><use href="#GR" x="240"/></g><g id="k41-5"><use href="#GR" x="292"/></g><g id="k41-6"><use href="#GR" x="344"/></g><g id="k41-7"><use href="#GR" x="396"/></g><g id="k41-8"><use href="#GR" x="448"/></g><g id="k41-9"><use href="#GR" x="500"/></g></g>
<g transform="translate(0 2193)"><g id="k42-1"><use href="#GL" x="84"/></g><g id="k42-2"><use href="#GL" x="136"/></g><g id="k42-3"><use href="#GL" x="188"/></g><g id="k42-4"><use href="#GL" x="240"/></g><g id="k42-5"><use href="#GL" x="292"/></g><g id="k42-6"><use href="#GL" x="344"/></g><g id="k42-7"><use href="#GL" x="396"/></g><g id="k42-8"><use href="#GL" x="448"/></g><g id="k42-9"><use href="#GL" x="500"/></g></g>
<g transform="translate(0 2245)"><g id="k43-1"><use href="#GR" x="84"/></g><g id="k43-2"><use href="#GR" x="136"/></g><g id="k43-3"><use href="#GR" x="188"/></g><g id="k43-4"><use href="#GR" x="240"/></g><g id="k43-5"><use href="#CR" x="292"/></g><g id="k43-6"><use href="#CR" x="344"/></g><g id="k43-7"><use href="#CR" x="396"/></g><g id="k43-8"><use href="#GR" x="448"/></g><g id="k43-9"><use href="#GR" x="500"/></g></g>
<g transform="translate(0 2297)"><g id="k44-1"><use href="#GL" x="84"/></g><g id="k44-2"><use href="#GL" x="136"/></g><g id="k44-3"><use href="#GL" x="188"/></g><g id="k44-4"><use href="#CL" x="240"/></g><g id="k44-5"><use href="#CL" x="292"/></g><g id="k44-6"><use href="#CL" x="344"/></g><g id="k44-7"><use href="#CL" x="396"/></g><g id="k44-8"><use href="#CL" x="448"/></g><g id="k44-9"><use href="#GL" x="500"/></g></g>
<g transform="translate(0 2349)"><g id="k45-1"><use href="#GR" x="84"/></g><g id="k45-2"><use href="#GR" x="136"/></g><g id="k45-3"><use href="#CR" x="188"/></g><g id="k45-4"><use href="#CR" x="240"/></g><g id="k45-5"><use href="#CR" x="292"/></g><g id="k45-6"><use href="#CR" x="344"/></g><g id="k45-7"><use href="#CR" x="396"/></g><g id="k45-8"><use href="#CR" x="448"/></g><g id="k45-9"><use href="#GR" x="500"/></g></g>
<g transform="translate(0 2401)"><g id="k46-1"><use href="#GL" x="84"/></g><g id="k46-2"><use href="#CL" x="136"/></g><g id="k46-3"><use href="#CL" x="188"/></g><g id="k46-4"><use href="#CL" x="240"/></g><g id="k46-5"><use href="#CL" x="292"/></g><g id="k46-6"><use href="#CL" x="344"/></g><g id="k46-7"><use href="#CL" x="396"/></g><g id="k46-8"><use href="#GL" x="448"/></g><g id="k46-9"><use href="#GL" x="500"/></g></g>
<g transform="translate(0 2453)"><g id="k47-1"><use href="#GR" x="84"/></g><g id="k47-2"><use href="#CR" x="136"/></g><g id="k47-3"><use href="#CR" x="188"/></g><g id="k47-4"><use href="#CR" x="240"/></g><g id="k47-5"><use href="#CR" x="292"/></g><g id="k47-6"><use href="#CR" x="344"/></g><g id="k47-7"><use href="#GR" x="396"/></g><g id="k47-8"><use href="#GR" x="448"/></g><g id="k47-9"><use href="#GR" x="500"/></g></g>
<g transform="translate(0 2505)"><g id="k48-1"><use href="#GL" x="84"/></g><g id="k48-2"><use href="#CL" x="136"/></g><g id="k48-3"><use href="#CL" x="188"/></g><g id="k48-4"><use href="#FL" x="240"/></g><g id="k48-5"><use href="#CL" x="292"/></g><g id="k48-6"><use href="#CL" x="344"/></g><g id="k48-7"><use href="#CL" x="396"/></g><g id="k48-8"><use href="#GL" x="448"/></g><g id="k48-9"><use href="#GL" x="500"/></g></g>
<g transform="translate(0 2557)"><g id="k49-1"><use href="#GR" x="84"/></g><g id="k49-2"><use href="#GR" x="136"/></g><g id="k49-3"><use href="#CR" x="188"/></g><g id="k49-4"><use href="#CR" x="240"/></g><g id="k49-5"><use href="#CR" x="292"/></g><g id="k49-6"><use href="#CR" x="344"/></g><g id="k49-7"><use href="#CR" x="396"/></g><g id="k49-8"><use href="#CR" x="448"/></g><g id="k49-9"><use href="#GR" x="500"/></g></g>
<g transform="translate(0 2609)"><g id="k50-1"><use href="#GL" x="84"/></g><g id="k50-2"><use href="#GL" x="136"/></g><g id="k50-3"><use href="#GL" x="188"/></g><g id="k50-4"><use href="#CL" x="240"/></g><g id="k50-5"><use href="#CL" x="292"/></g><g id="k50-6"><use href="#FL" x="344"/></g><g id="k50-7"><use href="#FL" x="396"/></g><g id="k50-8"><use href="#CL" x="448"/></g><g id="k50-9"><use href="#GL" x="500"/></g></g>
<g transform="translate(0 2661)"><g id="k51-1"><use href="#GR" x="84"/></g><g id="k51-2"><use href="#GR" x="136"/></g><g id="k51-3"><use href="#GR" x="188"/></g><g id="k51-4"><use href="#GR" x="240"/></g><g id="k51-5"><use href="#CR" x="292"/></g><g id="k51-6"><use href="#CR" x="344"/></g><g id="k51-7"><use href="#CR" x="396"/></g><g id="k51-8"><use href="#GR" x="448"/></g><g id="k51-9"><use href="#GR" x="500"/></g></g>
<g transform="translate(0 2713)"><g id="k52-1"><use href="#GL" x="84"/></g><g id="k52-2"><use href="#GL" x="136"/></g><g id="k52-3"><use href="#GL" x="188"/></g><g id="k52-4"><use href="#GL" x="240"/></g><g id="k52-5"><use href="#GL" x="292"/></g><g id="k52-6"><use href="#GL" x="344"/></g><g id="k52-7"><use href="#GL" x="396"/></g><g id="k52-8"><use href="#GL" x="448"/></g><g id="k52-9"><use href="#GL" x="500"/></g></g>
<g transform="translate(0 2765)"><g id="k53-1"><use href="#GR" x="84"/></g><g id="k53-2"><use href="#GR" x="136"/></g><g id="k53-3"><use href="#GR" x="188"/></g><g id="k53-4"><use href="#GR" x="240"/></g><g id="k53-5"><use href="#GR" x="292"/></g><g id="k53-6"><use href="#GR" x="344"/></g><g id="k53-7"><use href="#GR" x="396"/></g><g id="k53-8"><use href="#GR" x="448"/></g><g id="k53-9"><use href="#GR" x="500"/></g></g>
<g transform="translate(0 2817)"><g id="k54-1"><use href="#GL" x="84"/></g><g id="k54-2"><use href="#GL" x="136"/></g><g id="k54-3"><use href="#GL" x="188"/></g><g id="k54-4"><use href="#CL" x="240"/></g><g id="k54-5"><use href="#GL" x="292"/></g><g id="k54-6"><use href="#GL" x="344"/></g><g id="k54-7"><use href="#GL" x="396"/></g><g id="k54-8"><use href="#GL" x="448"/></g><g id="k54-9"><use href="#GL" x="500"/></g></g>
<g transform="translate(0 2869)"><g id="k55-1"><use href="#GR" x="84"/></g><g id="k55-2"><use href="#GR" x="136"/></g><g id="k55-3"><use href="#GR" x="188"/></g><g id="k55-4"><use href="#GR" x="240"/></g><g id="k55-5"><use href="#GR" x="292"/></g><g id="k55-6"><use href="#GR" x="344"/></g><g id="k55-7"><use href="#GR" x="396"/></g><g id="k55-8"><use href="#GR" x="448"/></g><g id="k55-9"><use href="#GR" x="500"/></g></g>
<g transform="translate(0 2921)"><g id="k56-1"><use href="#GL" x="84"/></g><g id="k56-2"><use href="#GL" x="136"/></g><g id="k56-3"><use href="#GL" x="188"/></g><g id="k56-4"><use href="#GL" x="240"/></g><g id="k56-5"><use href="#GL" x="292"/></g><g id="k56-6"><use href="#GL" x="344"/></g><g id="k56-7"><use href="#GL" x="396"/></g><g id="k56-8"><use href="#GL" x="448"/></g><g id="k56-9"><use href="#GL" x="500"/></g></g>
<g transform="translate(0 2973)"><g id="k57-1"><use href="#GR" x="84"/></g><g id="k57-2"><use href="#GR" x="136"/></g><g id="k57-3"><use href="#GR" x="188"/></g><g id="k57-4"><use href="#GR" x="240"/></g><g id="k57-5"><use href="#GR" x="292"/></g><g id="k57-6"><use href="#GR" x="344"/></g><g id="k57-7"><use href="#CR" x="396"/></g><g id="k57-8"><use href="#GR" x="448"/></g><g id="k57-9"><use href="#GR" x="500"/></g></g>
<g transform="translate(0 3025)"><g id="k58-1"><use href="#GL" x="84"/></g><g id="k58-2"><use href="#GL" x="136"/></g><g id="k58-3"><use href="#CL" x="188"/></g><g id="k58-4"><use href="#GL" x="240"/></g><g id="k58-5"><use href="#GL" x="292"/></g><g id="k58-6"><use href="#GL" x="344"/></g><g id="k58-7"><use href="#GL" x="396"/></g><g id="k58-8"><use href="#GL" x="448"/></g><g id="k58-9"><use href="#GL" x="500"/></g></g>
<g transform="translate(0 3077)"><g id="k59-1"><use href="#GR" x="84"/></g><g id="k59-2"><use href="#GR" x="136"/></g><g id="k59-3"><use href="#GR" x="188"/></g><g id="k59-4"><use href="#GR" x="240"/></g><g id="k59-5"><use href="#GR" x="292"/></g><g id="k59-6"><use href="#GR" x="344"/></g><g id="k59-7"><use href="#GR" x="396"/></g><g id="k59-8"><use href="#GR" x="448"/></g><g id="k59-9"><use href="#GR" x="500"/></g></g>
<g transform="translate(0 3129)"><g id="k60-1"><use href="#GL" x="84"/></g><g id="k60-2"><use href="#GL" x="136"/></g><g id="k60-3"><use href="#GL" x="188"/></g><g id="k60-4"><use href="#GL" x="240"/></g><g id="k60-5"><use href="#GL" x="292"/></g><g id="k60-6"><use href="#GL" x="344"/></g><g id="k60-7"><use href="#GL" x="396"/></g><g id="k60-8"><use href="#GL" x="448"/></g><g id="k60-9"><use href="#GL" x="500"/></g></g>
</g>

<text id="watermark" x="292" y="1601" font-size="16" font-weight="bold" text-anchor="middle" fill="#333" fill-opacity="0.9" textLength="153" lengthAdjust="spacingAndGlyphs">BRACELETBOOK.COM</text>
</svg>
